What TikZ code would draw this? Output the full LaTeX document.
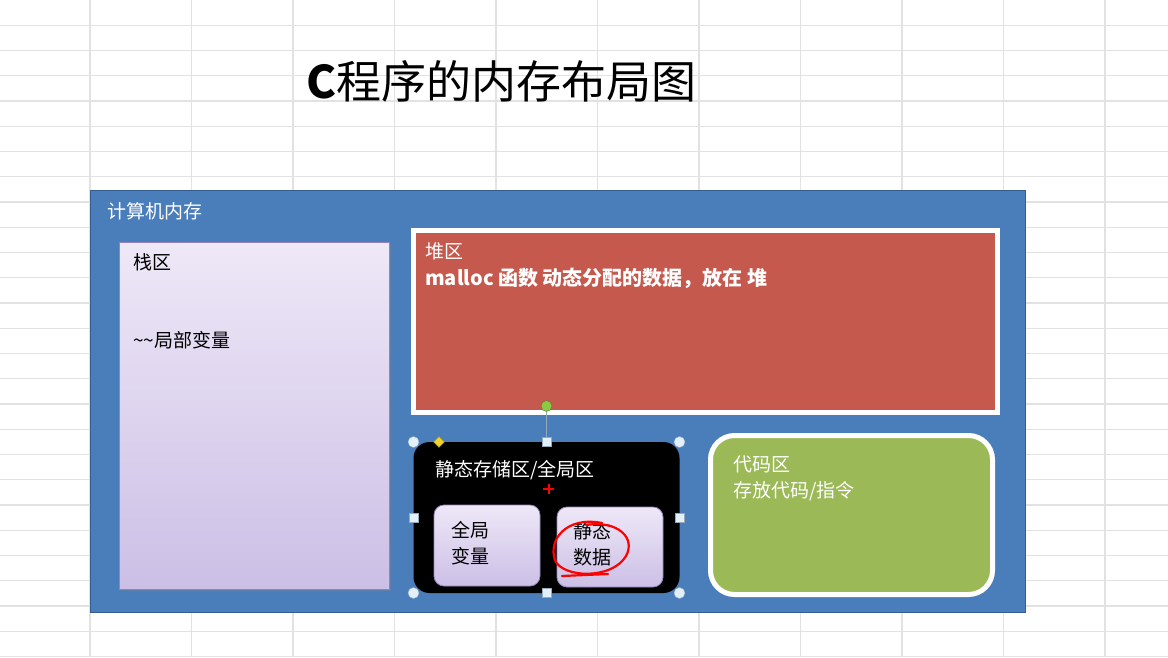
\documentclass[tikz,border=0pt]{standalone}
\usepackage{fontspec}
\setmainfont{Noto Sans CJK SC}
\usetikzlibrary{positioning,shapes.geometric,shadows}

\definecolor{gridgray}{RGB}{226,226,226}
\definecolor{memblue}{RGB}{74,126,187}
\definecolor{memedge}{RGB}{52,94,146}
\definecolor{heapred}{RGB}{197,89,77}
\definecolor{codegreen}{RGB}{155,185,87}
\definecolor{lavtop}{RGB}{238,232,247}
\definecolor{lavbot}{RGB}{204,191,230}
\definecolor{lavedge}{RGB}{150,130,190}
\definecolor{handlefill}{RGB}{226,240,250}
\definecolor{handleedge}{RGB}{150,170,190}
\definecolor{rothandle}{RGB}{140,200,70}
\definecolor{adjyellow}{RGB}{240,210,40}

\begin{document}
\begin{tikzpicture}[x=1pt,y=-1pt,
  area/.style={anchor=north west, inner sep=0pt, outer sep=0pt},
  lav/.style={area, top color=lavtop, bottom color=lavbot, draw=lavedge, line width=0.8},
  txt/.style={anchor=west, inner sep=0pt, align=left, font=\fontsize{19}{26}\selectfont},
  handle/.style={circle, draw=handleedge, fill=handlefill, inner sep=0pt, minimum size=11},
  sqhandle/.style={rectangle, draw=handleedge, fill=handlefill, inner sep=0pt, minimum size=9}]
  \useasboundingbox (0,0) rectangle (1168,657);
  \fill[white] (0,0) rectangle (1168,657);
  % Tabellen-Raster im Hintergrund
  \foreach \gy in {1,...,26}
    \draw[gridgray, line width=1.2] (0,25.25*\gy) -- (1168,25.25*\gy);
  \foreach \gx in {0,...,10}
    \draw[gridgray, line width=1.2] (90+101.5*\gx,0) -- (90+101.5*\gx,657);

  \node[anchor=west, inner sep=0pt, font=\fontsize{45}{52}\selectfont] (title) at (306,81) {{\bfseries C}程序的内存布局图};

  % Speicherbereiche
  \node[area, fill=memblue, draw=memedge, line width=1.5, minimum width=935, minimum height=422] (mem) at (90.5,190.5) {};
  \node[txt, white] (memlbl) at (107,211) {计算机内存};

  \node[lav, drop shadow={opacity=0.3, shadow xshift=2pt, shadow yshift=-2pt}, minimum width=270, minimum height=347] (stack) at (119,242) {};
  \node[txt] (stacklbl) at (133,262) {栈区};
  \node[txt] (localvar) at (133,340) {\textasciitilde\textasciitilde 局部变量};

  \node[area, fill=heapred, draw=white, line width=5, minimum width=584, minimum height=182] (heap) at (413.5,230.5) {};
  \node[txt, white] (heaplbl) at (425,251) {堆区};
  \node[txt, white, font=\fontsize{20}{26}\selectfont\bfseries] (malloc) at (425,278) {malloc 函数 动态分配的数据，放在 堆};

  \node[area, fill=black, rounded corners=16, minimum width=266, minimum height=151] (static) at (413.5,442) {};
  \node[txt, white] (staticlbl) at (435,470) {静态存储区/全局区};
  \node[lav, rounded corners=10, minimum width=106, minimum height=81] (globalvar) at (434,505) {};
  \node[txt] at (451,543) {全局\\变量};
  \node[lav, rounded corners=10, minimum width=106, minimum height=80] (staticdata) at (557,507) {};
  \node[txt] at (573,544) {静态\\数据};

  \node[area, fill=codegreen, draw=white, line width=5, rounded corners=24, minimum width=282, minimum height=159] (code) at (710.5,435.5) {};
  \node[txt, white] (codelbl) at (733,478) {代码区\\存放代码/指令};

  % Auswahl-Markierungen
  \node[circle, fill=rothandle, draw=rothandle!60!black, inner sep=0pt, minimum size=11] (rot) at (546.5,406) {};
  \draw[handleedge] (rot) -- (static.north);
  \foreach \pos in {north west, north east, south west, south east}
    \node[handle] at (static.\pos) {};
  \foreach \pos in {north, south, west, east}
    \node[sqhandle] at (static.\pos) {};
  \node[diamond, fill=adjyellow, draw=adjyellow!70!black, inner sep=0pt, minimum size=11] (adj) at (439,442) {};
  \draw[red, line width=2] (543,489) -- (554,489) (548.5,484) -- (548.5,494);

  % roter Kringel
  \draw[red, line width=2.2, line cap=round] (602,523) .. controls (566,516) and (548,540) .. (555,560)
    .. controls (562,578) and (612,580) .. (626,556) .. controls (636,538) and (618,520) .. (586,525);
  \draw[red, line width=2.2, line cap=round] (562,576) -- (608,574);
\end{tikzpicture}
\end{document}
